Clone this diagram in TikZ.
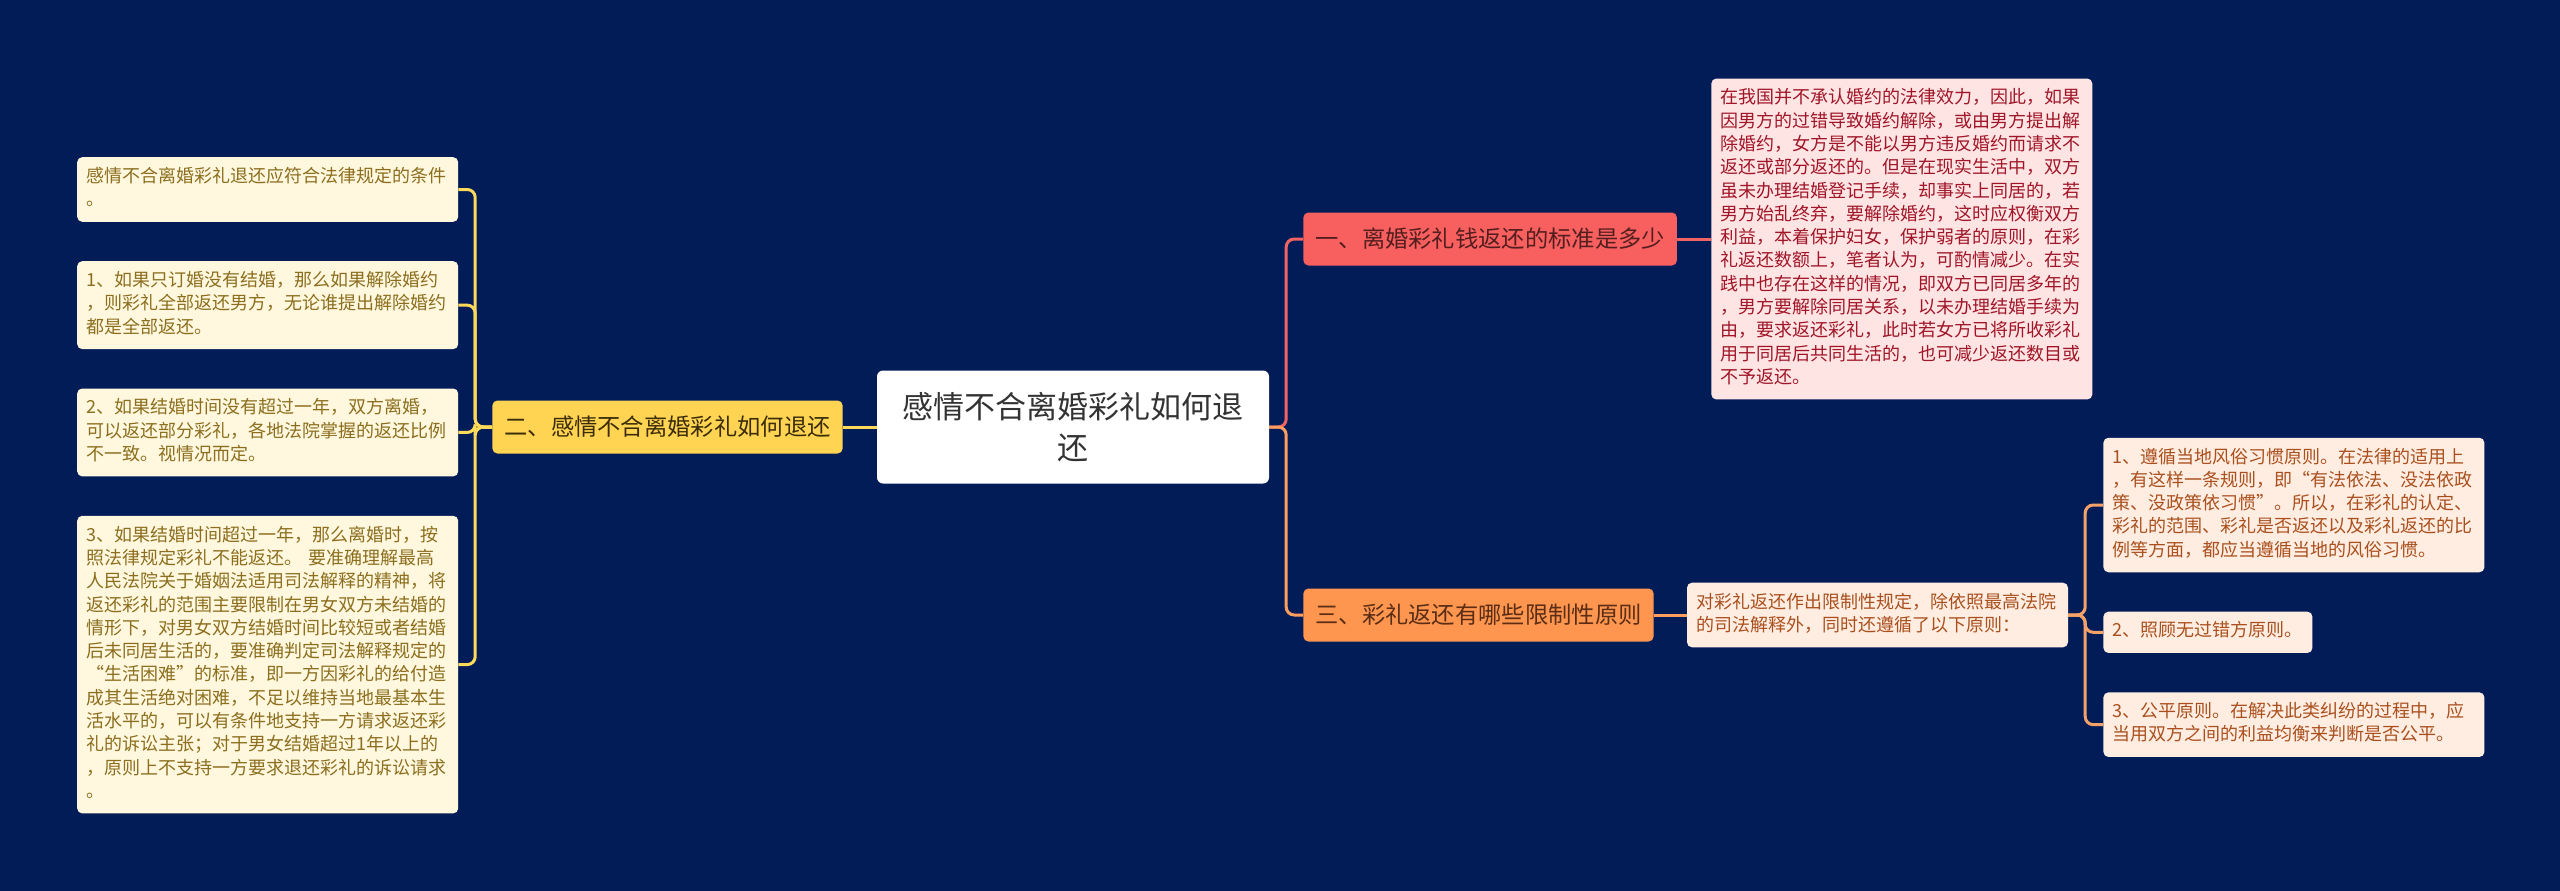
\documentclass[tikz,border=0pt]{standalone}
\usepackage{fontspec}
\newfontfamily\cjk{Noto Sans CJK SC}
\usetikzlibrary{positioning}

\definecolor{bgnavy}{RGB}{2,28,88}
\definecolor{rootink}{RGB}{51,51,51}
\definecolor{yellowfill}{RGB}{255,212,82}
\definecolor{yellowink}{RGB}{60,45,10}
\definecolor{yellowline}{RGB}{255,218,90}
\definecolor{creamfill}{RGB}{255,248,222}
\definecolor{creamink}{RGB}{140,110,30}
\definecolor{redfill}{RGB}{248,96,96}
\definecolor{redink}{RGB}{85,30,30}
\definecolor{redline}{RGB}{242,100,100}
\definecolor{pinkfill}{RGB}{255,228,228}
\definecolor{pinkink}{RGB}{160,22,40}
\definecolor{orangefill}{RGB}{255,150,80}
\definecolor{orangeink}{RGB}{90,45,20}
\definecolor{orangeline}{RGB}{255,158,95}
\definecolor{peachfill}{RGB}{255,237,225}
\definecolor{peachink}{RGB}{170,80,30}
\definecolor{peachline}{RGB}{245,162,105}

\begin{document}
\begin{tikzpicture}[x=1pt, y=-1pt,
  root/.style={fill=white, rounded corners=6pt, text=rootink,
    font=\cjk\fontsize{31pt}{41pt}\selectfont, text width=344pt, align=center,
    minimum width=392pt, minimum height=113pt, inner sep=0pt},
  branch/.style={fill=#1, rounded corners=5pt,
    font=\cjk\fontsize{23.3pt}{28pt}\selectfont,
    inner xsep=12pt, inner ysep=0pt, minimum height=53pt},
  leaf/.style={fill=#1, rounded corners=5pt,
    font=\cjk\fontsize{18pt}{23.3pt}\selectfont, text width=362pt, align=left,
    inner xsep=9.5pt, inner ysep=9pt,
    execute at begin node=\strut, execute at end node=\strut},
  link/.style={draw=#1, line width=3pt, rounded corners=8pt}
]
  \fill[bgnavy] (0,0) rectangle (2560,891);

  \node[root] (root) at (1073,427) {感情不合离婚彩礼如何退\\还};

  % left side
  \node[branch=yellowfill, text=yellowink, left=34pt of root] (brL) {二、感情不合离婚彩礼如何退还};

  \node[leaf=creamfill, text=creamink, anchor=north west] (condA) at (77,157)
    {感情不合离婚彩礼退还应符合法律规定的条件\\。};
  \node[leaf=creamfill, text=creamink, below=39pt of condA] (condB)
    {1、如果只订婚没有结婚，那么如果解除婚约\\，则彩礼全部返还男方，无论谁提出解除婚约\\都是全部返还。};
  \node[leaf=creamfill, text=creamink, below=39pt of condB] (condC)
    {2、如果结婚时间没有超过一年，双方离婚，\\可以返还部分彩礼，各地法院掌握的返还比例\\不一致。视情况而定。};
  \node[leaf=creamfill, text=creamink, below=39pt of condC] (condD)
    {3、如果结婚时间超过一年，那么离婚时，按\\照法律规定彩礼不能返还。 要准确理解最高\\人民法院关于婚姻法适用司法解释的精神，将\\返还彩礼的范围主要限制在男女双方未结婚的\\情形下，对男女双方结婚时间比较短或者结婚\\后未同居生活的，要准确判定司法解释规定的\\“生活困难”的标准，即一方因彩礼的给付造\\成其生活绝对困难，不足以维持当地最基本生\\活水平的，可以有条件地支持一方请求返还彩\\礼的诉讼主张；对于男女结婚超过1年以上的\\，原则上不支持一方要求退还彩礼的诉讼请求\\。};

  \draw[link=yellowline] (root.west) -- (brL.east);
  \draw[link=yellowline] (brL.west) -- ++(-17pt,0) |- (condA.east);
  \draw[link=yellowline] (brL.west) -- ++(-17pt,0) |- (condB.east);
  \draw[link=yellowline] (brL.west) -- ++(-17pt,0) |- (condC.east);
  \draw[link=yellowline] (brL.west) -- ++(-17pt,0) |- (condD.east);

  % right side
  \node[branch=redfill, text=redink, right=34pt of root.east, yshift=188pt] (brR1) {一、离婚彩礼钱返还的标准是多少};
  \node[branch=orangefill, text=orangeink, right=34pt of root.east, yshift=-188pt] (brR2) {三、彩礼返还有哪些限制性原则};

  \node[leaf=pinkfill, text=pinkink, right=34pt of brR1] (noteA)
    {在我国并不承认婚约的法律效力，因此，如果\\因男方的过错导致婚约解除，或由男方提出解\\除婚约，女方是不能以男方违反婚约而请求不\\返还或部分返还的。但是在现实生活中，双方\\虽未办理结婚登记手续，却事实上同居的，若\\男方始乱终弃，要解除婚约，这时应权衡双方\\利益，本着保护妇女，保护弱者的原则，在彩\\礼返还数额上，笔者认为，可酌情减少。在实\\践中也存在这样的情况，即双方已同居多年的\\，男方要解除同居关系，以未办理结婚手续为\\由，要求返还彩礼，此时若女方已将所收彩礼\\用于同居后共同生活的，也可减少返还数目或\\不予返还。};

  \node[leaf=peachfill, text=peachink, right=33pt of brR2] (rootB)
    {对彩礼返还作出限制性规定，除依照最高法院\\的司法解释外，同时还遵循了以下原则：};

  \node[leaf=peachfill, text=peachink, right=35pt of rootB.east, yshift=110pt] (ruleA)
    {1、遵循当地风俗习惯原则。在法律的适用上\\，有这样一条规则，即“有法依法、没法依政\\策、没政策依习惯”。所以，在彩礼的认定、\\彩礼的范围、彩礼是否返还以及彩礼返还的比\\例等方面，都应当遵循当地的风俗习惯。};
  \node[leaf=peachfill, text=peachink, text width=190pt, below=39pt of ruleA.south west, anchor=north west] (ruleB)
    {2、照顾无过错方原则。};
  \node[leaf=peachfill, text=peachink, below=39pt of ruleB.south west, anchor=north west] (ruleC)
    {3、公平原则。在解决此类纠纷的过程中，应\\当用双方之间的利益均衡来判断是否公平。};

  \draw[link=redline] (root.east) -- ++(17pt,0) |- (brR1.west);
  \draw[link=orangeline] (root.east) -- ++(17pt,0) |- (brR2.west);
  \draw[link=redline] (brR1.east) -- (noteA.west);
  \draw[link=orangeline] (brR2.east) -- (rootB.west);
  \draw[link=peachline] (rootB.east) -- ++(17pt,0) |- (ruleA.west);
  \draw[link=peachline] (rootB.east) -- ++(17pt,0) |- (ruleB.west);
  \draw[link=peachline] (rootB.east) -- ++(17pt,0) |- (ruleC.west);
\end{tikzpicture}
\end{document}
